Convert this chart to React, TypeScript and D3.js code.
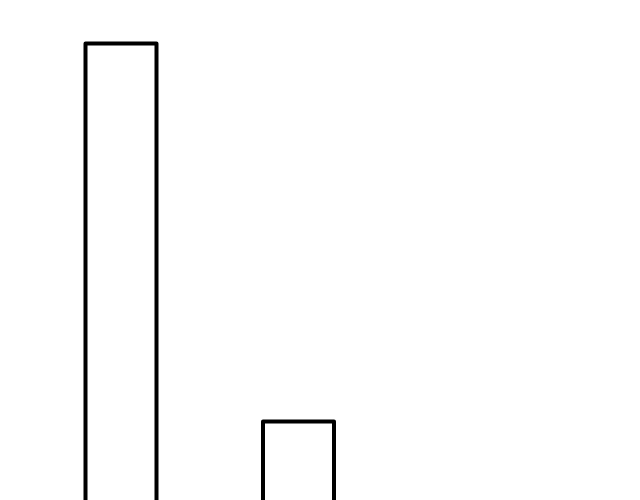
import { useEffect, useRef } from "react";
import * as d3 from "d3";

const categories = ["A", "B"];
const values = [48, 12];

export default function App() {
  const svgRef = useRef<SVGSVGElement>(null);

  useEffect(() => {
    if (!svgRef.current) return;
    const svg = d3.select(svgRef.current);
    svg.selectAll("*").remove();

    const width = 640;
    const height = 500;

    // baseline sits below the visible area, so bars run off the bottom
    const x = d3
      .scaleBand<string>()
      .domain(categories)
      .range([85.5, 334])
      .paddingInner(0.6)
      .paddingOuter(0);

    const y = d3
      .scaleLinear()
      .domain([0, d3.max(values) as number])
      .range([547.5, 43.5]);

    svg.append("rect").attr("width", width).attr("height", height).attr("fill", "#ffffff");

    svg
      .append("g")
      .selectAll("rect")
      .data(categories)
      .join("rect")
      .attr("x", (d) => x(d) as number)
      .attr("y", (_, i) => y(values[i]))
      .attr("width", x.bandwidth())
      .attr("height", (_, i) => y(0) - y(values[i]))
      .attr("fill", "#ffffff")
      .attr("stroke", "#000000")
      .attr("stroke-width", 4)
      .attr("stroke-linejoin", "round");
  }, []);

  return (
    <svg
      ref={svgRef}
      width={640}
      height={500}
      style={{ position: "absolute", left: 0, top: 0, display: "block" }}
    />
  );
}
